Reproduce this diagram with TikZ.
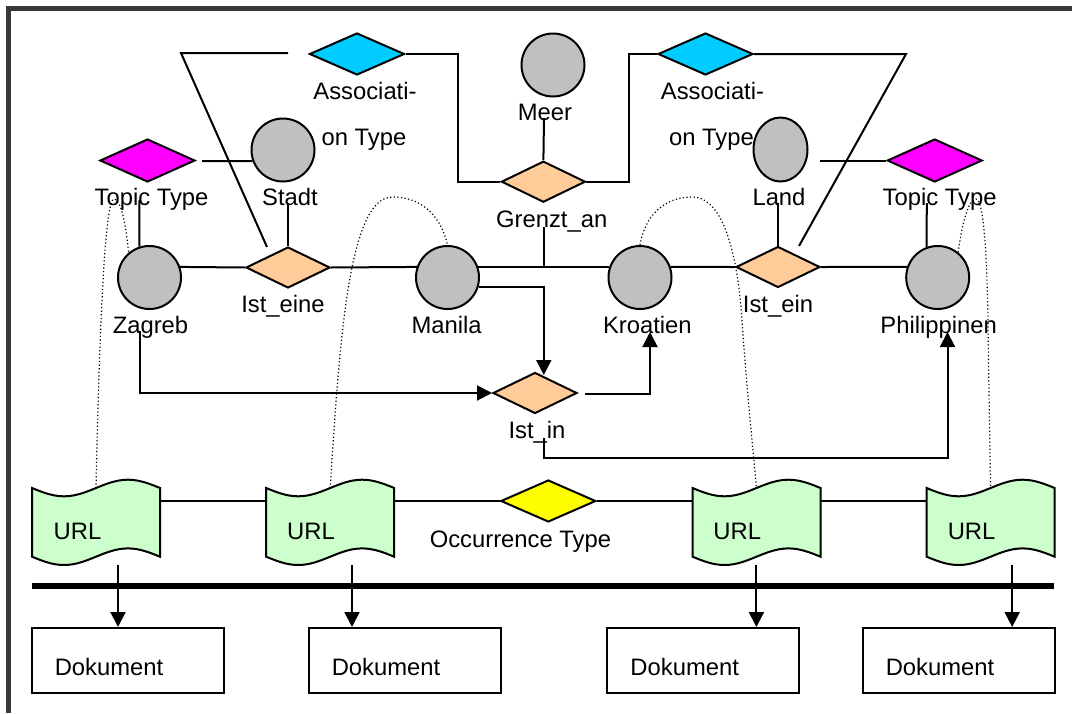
\documentclass[tikz,border=0pt]{standalone}
\usepackage{fontspec}
\setmainfont{Liberation Sans}
\usetikzlibrary{shapes.geometric,arrows.meta}
\definecolor{cframe}{HTML}{383838}
\definecolor{cblue}{HTML}{00CCFF}
\definecolor{cmag}{HTML}{FF00FF}
\definecolor{corange}{HTML}{FFCC99}
\definecolor{cgray}{HTML}{C0C0C0}
\definecolor{cyellow}{HTML}{FFFF00}
\definecolor{cgreen}{HTML}{CCFFCC}
\tikzset{
  shp/.style={draw=black, line width=1pt, inner sep=0pt},
  topic/.style={shp, circle, fill=cgray, minimum size=31.5pt},
  topicell/.style={shp, ellipse, fill=cgray, minimum width=27pt, minimum height=32pt},
  assoc/.style={shp, diamond, fill=corange, minimum width=42pt, minimum height=20.5pt},
  atype/.style={shp, diamond, fill=cblue, minimum width=47.5pt, minimum height=21pt},
  ttype/.style={shp, diamond, fill=cmag, minimum width=47.5pt, minimum height=21.5pt},
  otype/.style={shp, diamond, fill=cyellow, minimum width=47.5pt, minimum height=21pt},
  tapebox/.style={rectangle, inner sep=0pt, minimum width=64pt, minimum height=34pt},
  docbox/.style={shp, rectangle, fill=white, minimum width=96pt, minimum height=32.5pt},
  lbl/.style={inner sep=0pt, anchor=base, font=\fontsize{11.9}{14}\selectfont},
  conn/.style={line width=1pt},
  arr/.style={conn, -{Triangle[length=7.5pt,width=7.5pt]}},
  occlink/.style={line width=0.6pt, dash pattern=on 0.6pt off 1.2pt},
}
\begin{document}
\begin{tikzpicture}[x=0.5pt,y=-0.5pt]
\useasboundingbox (0,0) rectangle (1072,713);
% frame
\fill[cframe] (6,6) rectangle (1072,11);
\fill[cframe] (6,6) rectangle (11,713);

% nodes
\node[atype] (blue1) at (357,54) {};
\node[atype] (blue2) at (705.5,54) {};
\node[ttype] (tt1) at (147.5,160.5) {};
\node[ttype] (tt2) at (934.7,160.5) {};
\node[topic] (stadt) at (283,150) {};
\node[topicell] (land) at (780.5,149.5) {};
\node[topic] (meer) at (553,65) {};
\node[assoc] (isteine) at (288,267.5) {};
\node[assoc] (istein) at (778,267) {};
\node[assoc] (grenzt) at (543.4,181.7) {};
\node[assoc] (istin) at (535,393) {};
\node[otype] (occ) at (548.3,501) {};
\node[topic] (zagreb) at (149.5,277.5) {};
\node[topic] (manila) at (447.5,277.5) {};
\node[topic] (kroatien) at (640,277.5) {};
\node[topic] (phil) at (937.7,277.5) {};
\node[tapebox] (url1) at (96,522.5) {};
\node[tapebox] (url2) at (330.2,522.5) {};
\node[tapebox] (url3) at (756.5,522.5) {};
\node[tapebox] (url4) at (990.6,522.5) {};
\node[docbox] (doc1) at (128.25,660.5) {};
\node[docbox] (doc2) at (405,660.5) {};
\node[docbox] (doc3) at (702.85,660.5) {};
\node[docbox] (doc4) at (958.6,660.5) {};

% punched tape shapes
\foreach \u in {url1,url2,url3,url4}{
  \begin{scope}[shift={(\u.center)}]
    \draw[shp, fill=cgreen] (-64,-34.5) sin (-32,-26.2) cos (0,-34.5) sin (32,-42.8) cos (64,-34.5)
      -- (64,34.2) sin (32,25.9) cos (0,34.2) sin (-32,42.5) cos (-64,34.2) -- cycle;
  \end{scope}
}

% labels
\node[lbl] (lA1a) at (365,99.5) {Associati-};
\node[lbl] (lA1b) at (364,145) {on Type};
\node[lbl] (lA2a) at (712.5,99.5) {Associati-};
\node[lbl] (lA2b) at (711.5,145) {on Type};
\node[lbl] (lMeer) at (545,120.5) {Meer};
\node[lbl] (lTT1) at (151.5,205) {Topic Type};
\node[lbl] (lTT2) at (939.6,205) {Topic Type};
\node[lbl] (lStadt) at (290,205) {Stadt};
\node[lbl] (lLand) at (779,205) {Land};
\node[lbl] (lGrenzt) at (551.7,227.5) {Grenzt\_an};
\node[lbl] (lIsteine) at (283,312) {Ist\_eine};
\node[lbl] (lIstein) at (778,312) {Ist\_ein};
\node[lbl] (lZagreb) at (150.5,333.5) {Zagreb};
\node[lbl] (lManila) at (446.6,333.5) {Manila};
\node[lbl] (lKroatien) at (647.4,333.5) {Kroatien};
\node[lbl] (lPhil) at (938.7,333.5) {Philippinen};
\node[lbl] (lIstin) at (537,438.5) {Ist\_in};
\node[lbl] (lOcc) at (520.4,547) {Occurrence Type};
\node[lbl] (lU1) at (77.5,539.5) {URL};
\node[lbl] (lU2) at (311,539.5) {URL};
\node[lbl] (lU3) at (737.2,539.5) {URL};
\node[lbl] (lU4) at (971.6,539.5) {URL};
\node[lbl] (lD1) at (109,675) {Dokument};
\node[lbl] (lD2) at (386,675) {Dokument};
\node[lbl] (lD3) at (684.7,675) {Dokument};
\node[lbl] (lD4) at (940,675) {Dokument};

% free ends
\coordinate (a1l) at (288,53);
\coordinate (a1c) at (181,53);
\coordinate (a1e) at (267,247);
\coordinate (g1) at (458,54);
\coordinate (g2) at (628.5,54);
\coordinate (a2c) at (906,54);
\coordinate (a2e) at (799,246);
\coordinate (meerS) at (544,118);
\coordinate (ttl1) at (202,161);
\coordinate (ttl2) at (819.7,160.5);
\coordinate (tt1S) at (139.5,200);
\coordinate (stS) at (288,203);
\coordinate (laS) at (778,203);
\coordinate (tt2S) at (926.8,203);
\coordinate (grS) at (543.8,227);
\coordinate (grJ) at (543.8,267);
\coordinate (istinT) at (543.8,375);
\coordinate (zagS) at (139.5,331);
\coordinate (istinR) at (585.3,394.3);
\coordinate (kroS) at (650,332);
\coordinate (istinB) at (543.5,438);
\coordinate (istinB2) at (543.5,458.3);
\coordinate (phiS) at (947.5,332);
\coordinate (u1a) at (118,565);
\coordinate (u2a) at (352,565);
\coordinate (u3a) at (756.4,565);
\coordinate (u4a) at (1012.2,565);

% association type links
\draw[conn] (a1l) -- (a1c) -- (a1e);
\draw[conn] (grenzt.west) -| (g1) -- (blue1.east);
\draw[conn] (grenzt.east) -| (g2) -- (blue2.west);
\draw[conn] (blue2.east) -- (a2c) -- (a2e);
\draw[conn] (meerS) -- (grenzt.north);
% topic type links
\draw[conn] (ttl1) -- (stadt.-160);
\draw[conn] (ttl2) -- (tt2.west);
\draw[conn] (tt1S) -- (zagreb.108);
\draw[conn] (stS) -- (isteine.north);
\draw[conn] (laS) -- (istein.north);
\draw[conn] (tt2S) -- (phil.110);
% main row
\draw[conn] (zagreb.19) -- (isteine.west);
\draw[conn] (isteine.east) -- (manila.161);
\draw[conn] (manila.19) -- (kroatien.161);
\draw[conn] (kroatien.19) -- (istein.west);
\draw[conn] (istein.east) -- (phil.161);
\draw[conn] (grS) -- (grJ);
% Ist_in
\draw[arr] (manila.-17) -| (istinT);
\draw[arr] (zagS) |- (istin.west);
\draw[arr] (istinR) -| (kroS);
\draw[arr] (istinB) -- (istinB2) -| (phiS);

% occurrences (dotted)
\draw[occlink] (url1.north) .. controls (100,300) and (106,199) .. (114,199)
  .. controls (121,199) and (126,225) .. (zagreb.130);
\draw[occlink] (url2.north) .. controls (340,330) and (350,197) .. (392.5,197)
  .. controls (425,197) and (442,220) .. (manila.north);
\draw[occlink] (kroatien.north) .. controls (645,215) and (665,197) .. (692,197)
  .. controls (725,197) and (738,260) .. (742,320)
  .. controls (746,380) and (752,440) .. (url3.north);
\draw[occlink] (phil.51) .. controls (962,225) and (968,199) .. (976,199)
  .. controls (984,199) and (987,260) .. (988,320)
  .. controls (989,400) and (990,450) .. (url4.north);

% occurrence type row
\draw[conn] (url1.east |- occ.west) -- (url2.west |- occ.west);
\draw[conn] (url2.east |- occ.west) -- (occ.west);
\draw[conn] (occ.east) -- (url3.west |- occ.east);
\draw[conn] (url3.east |- occ.east) -- (url4.west |- occ.east);

% thick bar
\fill[black] (32,583) rectangle (1053.7,589);

% to documents
\draw[arr] (u1a) -- (u1a |- doc1.north);
\draw[arr] (u2a) -- (u2a |- doc2.north);
\draw[arr] (u3a) -- (u3a |- doc3.north);
\draw[arr] (u4a) -- (u4a |- doc4.north);
\end{tikzpicture}
\end{document}
